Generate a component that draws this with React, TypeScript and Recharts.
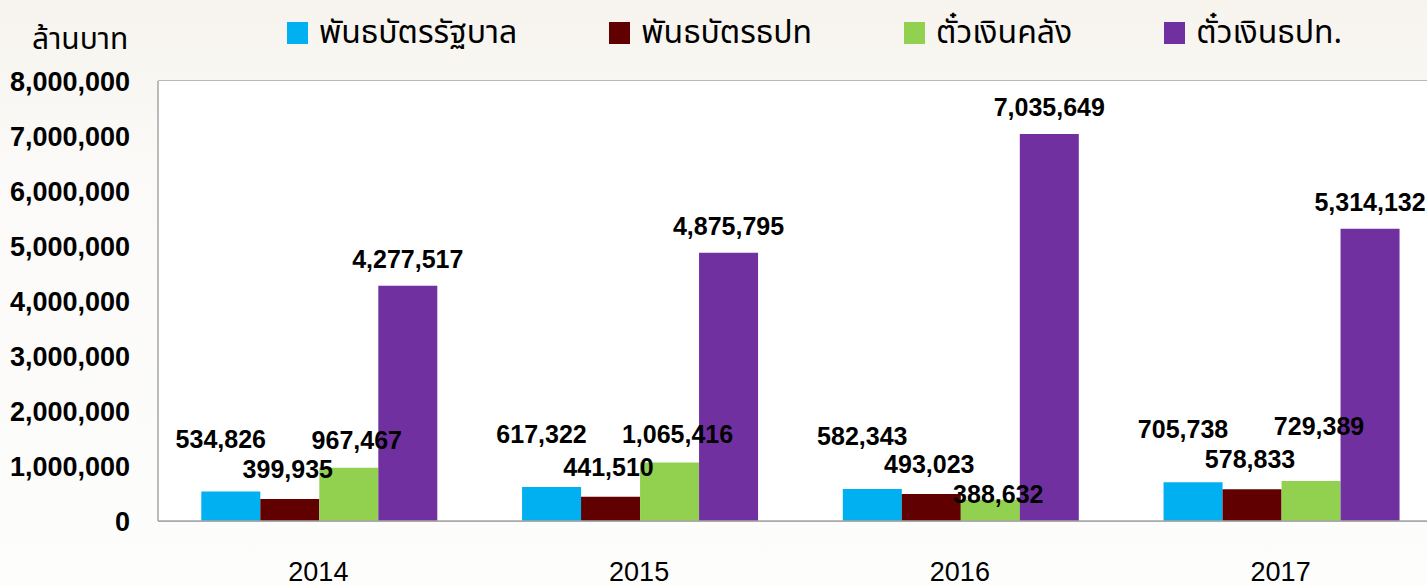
import { BarChart, Bar, XAxis, YAxis, CartesianGrid, LabelList } from "recharts";

const years = ["2014", "2015", "2016", "2017"];
const govBonds = [534826, 617322, 582343, 705738];
const botBonds = [399935, 441510, 493023, 578833];
const treasuryBills = [967467, 1065416, 388632, 729389];
const botBills = [4277517, 4875795, 7035649, 5314132];

const seriesNames = ["พันธบัตรรัฐบาล", "พันธบัตรธปท", "ตั๋วเงินคลัง", "ตั๋วเงินธปท."];
const seriesKeys = ["gov", "botBond", "tbill", "botBill"];
const seriesColors = ["#00b0f0", "#600000", "#92d050", "#7030a0"];
const yTicks = [0, 1000000, 2000000, 3000000, 4000000, 5000000, 6000000, 7000000, 8000000];
const unitLabel = "ล้านบาท";

const data = years.map((year, i) => ({
  year,
  gov: govBonds[i],
  botBond: botBonds[i],
  tbill: treasuryBills[i],
  botBill: botBills[i],
}));

const fmt = (v: number) => v.toLocaleString("en-US");
const numFont = "'Liberation Sans', Arial, sans-serif";
const thaiFont = "'Noto Sans Thai', 'Noto Sans', 'DejaVu Sans', sans-serif";

const labelText = (x: number, y: number, value: number) => (
  <text
    x={x}
    y={y}
    textAnchor="middle"
    dominantBaseline="central"
    fontFamily={numFont}
    fontWeight="bold"
    fontSize={25}
    fill="#000"
  >
    {fmt(value)}
  </text>
);

const makeLabel = (dx: number, dy: number) => (props: any) => {
  const { x, y, width, value } = props;
  return labelText(Number(x) + Number(width) / 2 + dx, Number(y) + dy, value);
};

// green labels dodge the maroon label next to them, like the excel original
const greenLabel = (props: any) => {
  const { x, y, width, height, value, index } = props;
  const base = Number(y) + Number(height);
  const k = Number(height) / value;
  const maroonLabelY = base - botBonds[index] * k - 30;
  let ly = Number(y) - 28;
  if (Math.abs(ly - maroonLabelY) < 28) {
    ly = value < botBonds[index] ? maroonLabelY + 30 : maroonLabelY - 33;
  }
  return labelText(Number(x) + Number(width) / 2 + 8, ly, value);
};

const labelRenderers = [makeLabel(-10, -53), makeLabel(-2, -30), greenLabel, makeLabel(0, -27)];

export default function App() {
  return (
    <div
      style={{
        position: "absolute",
        left: 0,
        top: 0,
        width: 1427,
        height: 586,
        overflow: "hidden",
        background: "linear-gradient(180deg, #f7f4ee 0%, #fbfaf8 30%, #fdfdfc 100%)",
      }}
    >
      <div
        style={{
          position: "absolute",
          left: 32,
          top: 20,
          fontFamily: thaiFont,
          fontSize: 30,
          color: "#000",
          lineHeight: "40px",
        }}
      >
        {unitLabel}
      </div>
      <div
        style={{
          position: "absolute",
          left: 287,
          top: 12,
          display: "flex",
          gap: 92,
          fontFamily: thaiFont,
          fontSize: 32,
          lineHeight: "42px",
          color: "#000",
        }}
      >
        {seriesNames.map((name, i) => (
          <div key={name} style={{ display: "flex", alignItems: "center" }}>
            <span
              style={{
                display: "inline-block",
                width: 21,
                height: 22,
                background: seriesColors[i],
                marginRight: 11,
              }}
            />
            <span>{name}</span>
          </div>
        ))}
      </div>
      <BarChart
        width={1445}
        height={586}
        data={data}
        margin={{ top: 81, right: 4, bottom: 20, left: 0 }}
        barGap={0}
        barCategoryGap="13.5%"
        style={{ position: "absolute", left: 0, top: 0 }}
      >
        <rect x={158} y={81} width={1283} height={440} fill="#fff" />
        <CartesianGrid vertical={false} stroke="#a6a6a6" strokeWidth={1.5} />
        <XAxis
          dataKey="year"
          height={45}
          axisLine={{ stroke: "#a6a6a6", strokeWidth: 1.5 }}
          tickLine={false}
          tickMargin={35}
          tick={{ fill: "#000", fontSize: 27, fontFamily: numFont }}
        />
        <YAxis
          width={158}
          domain={[0, 8000000]}
          ticks={yTicks}
          interval={0}
          tickFormatter={fmt}
          axisLine={{ stroke: "#a6a6a6", strokeWidth: 1.5 }}
          tickLine={false}
          tickSize={0}
          tickMargin={28}
          tick={{ fill: "#000", fontSize: 27, fontWeight: "bold", fontFamily: numFont }}
        />
        {seriesKeys.map((key, i) => (
          <Bar key={key} dataKey={key} name={seriesNames[i]} fill={seriesColors[i]} isAnimationActive={false}>
            <LabelList dataKey={key} content={labelRenderers[i]} />
          </Bar>
        ))}
      </BarChart>
    </div>
  );
}
